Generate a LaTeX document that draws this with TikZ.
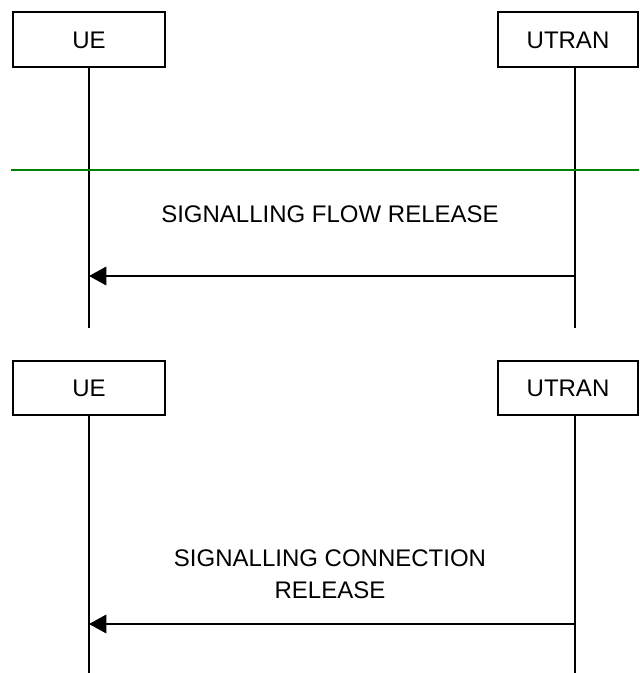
\documentclass[tikz,border=0pt]{standalone}
\usepackage{fontspec}
\setmainfont{Liberation Sans}
\usetikzlibrary{arrows.meta}
\definecolor{sepgreen}{RGB}{0,128,0}
\begin{document}
\begin{tikzpicture}[x=0.75pt,y=-0.75pt,
  entity/.style={draw=black,line width=1.5pt*0.75,fill=white},
  life/.style={draw=black,line width=1.5pt*0.75},
  msg/.style={draw=black,line width=1.5pt*0.75,-{Triangle[length=13pt,width=14pt]}},
  lbl/.style={font=\fontsize{18}{24}\selectfont,align=center,inner sep=0pt},
  sep/.style={draw=sepgreen,line width=0.9pt}]
\useasboundingbox (0,0) rectangle (639,673);
% top diagram
\draw[entity] (13,12) rectangle (165,67);
\node[lbl] (ue1) at (89,40) {UE};
\draw[entity] (498,12) rectangle (638,67);
\node[lbl] (ut1) at (568,40) {UTRAN};
\coordinate (ue1t) at (89,67);
\coordinate (ue1b) at (89,328);
\coordinate (ut1t) at (575,67);
\coordinate (ut1b) at (575,328);
\draw[life] (ue1t) -- (ue1b);
\draw[life] (ut1t) -- (ut1b);
\coordinate (gl) at (11,170);
\coordinate (gr) at (639,170);
\draw[sep] (gl) -- (gr);
\node[lbl] (m1) at (330,214) {SIGNALLING FLOW RELEASE};
\coordinate (a1s) at (575,276);
\coordinate (a1e) at (89,276);
\draw[msg] (a1s) -- (a1e);
% bottom diagram
\draw[entity] (13,361) rectangle (165,415);
\node[lbl] (ue2) at (89,388) {UE};
\draw[entity] (498,361) rectangle (638,415);
\node[lbl] (ut2) at (568,388) {UTRAN};
\coordinate (ue2t) at (89,415);
\coordinate (ue2b) at (89,673);
\coordinate (ut2t) at (575,415);
\coordinate (ut2b) at (575,673);
\draw[life] (ue2t) -- (ue2b);
\draw[life] (ut2t) -- (ut2b);
\node[lbl] (m2) at (330,574) {SIGNALLING CONNECTION\\RELEASE};
\coordinate (a2s) at (575,624);
\coordinate (a2e) at (89,624);
\draw[msg] (a2s) -- (a2e);
\end{tikzpicture}
\end{document}
